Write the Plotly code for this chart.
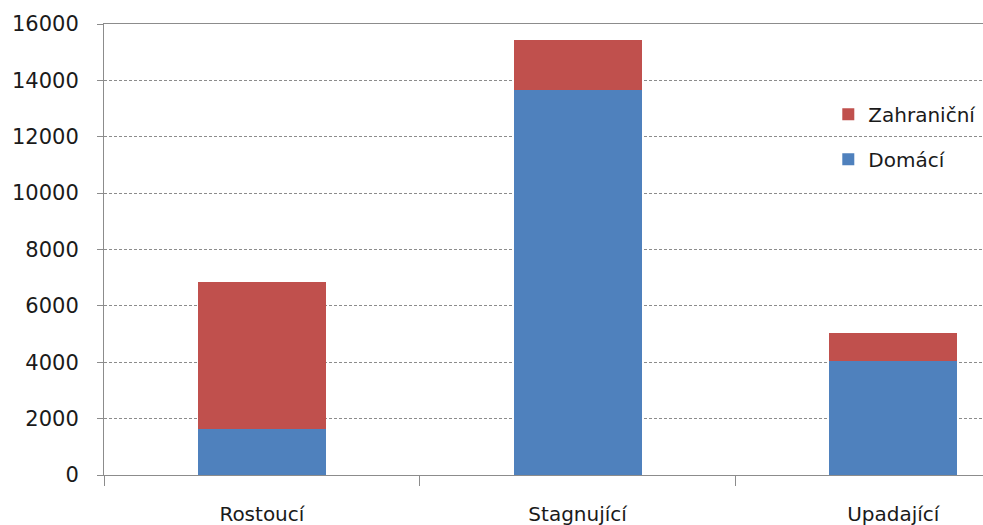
import plotly.graph_objects as go

categories = ["Rostoucí", "Stagnující", "Upadající"]
domaci = [1645, 13660, 4050]
zahranicni = [5185, 1760, 990]
series_names = ["Domácí", "Zahraniční"]
colors = ["#4F81BD", "#C0504D"]
y_ticks = [0, 2000, 4000, 6000, 8000, 10000, 12000, 14000, 16000]

FONT = "DejaVu Sans, sans-serif"

fig = go.Figure()
fig.add_trace(go.Bar(x=categories, y=domaci, name=series_names[0],
                     marker=dict(color=colors[0], line=dict(width=0)),
                     legendgroup="a", legendrank=2))
fig.add_trace(go.Bar(x=categories, y=zahranicni, name=series_names[1],
                     marker=dict(color=colors[1], line=dict(width=0)),
                     legendgroup="b", legendrank=1))

fig.update_layout(
    barmode="stack",
    bargap=0.595,
    width=983, height=525,
    margin=dict(l=104, r=0, t=24, b=50, autoexpand=False),
    paper_bgcolor="white", plot_bgcolor="white",
    font=dict(family=FONT, size=20, color="#1a1a1a"),
    showlegend=True,
    legend=dict(x=0.824, y=0.843, xanchor="left", yanchor="top",
                traceorder="grouped", tracegroupgap=16,
                font=dict(size=20), bgcolor="rgba(0,0,0,0)"),
    xaxis=dict(range=[-0.5, 2.284], showgrid=False, automargin=False,
               showline=True, linecolor="#8c8c8c", linewidth=1, mirror=True,
               ticks="outside", tickson="boundaries", ticklen=10,
               tickcolor="#8c8c8c", ticklabelstandoff=21,
               tickfont=dict(size=20)),
    yaxis=dict(range=[0, 16000], tickvals=y_ticks, automargin=False,
               ticktext=[str(v) for v in y_ticks],
               showgrid=True, gridcolor="#8c8c8c", griddash="3px,2px",
               gridwidth=1, zeroline=False,
               showline=True, linecolor="#8c8c8c", linewidth=1,
               ticks="outside", ticklen=6, tickcolor="#8c8c8c",
               ticklabelstandoff=14, tickfont=dict(size=21)),
)

fig.write_html("out.html", config={"displayModeBar": False},
               post_script="document.body.style.margin='0';document.body.style.padding='0';")
